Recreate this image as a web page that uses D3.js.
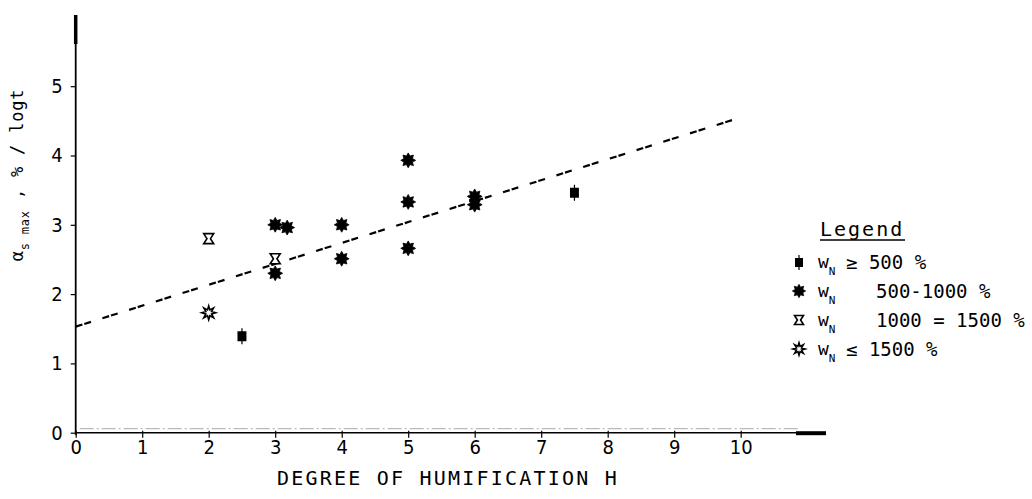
<!DOCTYPE html>
<html><head><meta charset="utf-8">
<script src="https://cdn.jsdelivr.net/npm/d3@7"></script>
<style>
html,body{margin:0;padding:0;background:#fff;}
svg{display:block;}
</style></head><body>
<svg id="chart" width="1032" height="499"></svg>
<script>
// Secondary compression rate against degree of humification, grouped by natural water content
const humificationTicks = [0, 1, 2, 3, 4, 5, 6, 7, 8, 9, 10];
const rateTicks = [0, 1, 2, 3, 4, 5];

const lowWaterH = [2.5, 7.5];
const lowWaterRate = [1.40, 3.47];
const midWaterH = [3, 3.18, 3, 4, 4, 5, 5, 5, 6, 6];
const midWaterRate = [3.00, 2.96, 2.30, 3.00, 2.51, 3.93, 3.33, 2.66, 3.41, 3.29];
const highWaterH = [2, 3];
const highWaterRate = [2.80, 2.51];
const veryHighWaterH = [2];
const veryHighWaterRate = [1.73];

const trendH = [0, 10];
const trendRate = [1.53, 4.55];

const legendRanges = ["≥ 500 %", "500-1000 %", "1000 = 1500 %", "≤ 1500 %"];

const svg = d3.select("#chart");
const x = d3.scaleLinear().domain([0, 10]).range([75.7, 740.7]);
const y = d3.scaleLinear().domain([0, 5]).range([432.7, 86.2]);

const tickFont = "'Liberation Sans Narrow','DejaVu Sans Condensed',sans-serif";
const monoFont = "'DejaVu Sans Mono','Liberation Mono',monospace";

// marker shapes
function starPath(ctx, ro, ri, n) {
  for (let i = 0; i < 2 * n; i++) {
    const a = Math.PI * i / n - Math.PI / 2;
    const r = i % 2 === 0 ? ro : ri;
    const px = r * Math.cos(a), py = r * Math.sin(a);
    if (i === 0) ctx.moveTo(px, py); else ctx.lineTo(px, py);
  }
  ctx.closePath();
}
const blockMark = { draw(ctx, size) {
  const r = Math.sqrt(size) / 2;
  ctx.rect(-r, -r, 2 * r, 2 * r + 1);
  ctx.rect(-0.6, -r - 3, 1.2, 3);
  ctx.rect(-0.6, r + 1, 1.2, 3);
} };
const burstMark = { draw(ctx, size) {
  const r = Math.sqrt(size) / 2;
  starPath(ctx, r, r * 0.62, 8);
} };
const hourglassMark = { draw(ctx, size) {
  const r = Math.sqrt(size) / 2;
  ctx.moveTo(-r, -r); ctx.lineTo(r, -r); ctx.lineTo(r * 0.35, 0);
  ctx.lineTo(r, r); ctx.lineTo(-r, r); ctx.lineTo(-r * 0.35, 0); ctx.closePath();
} };
const openStarMark = { draw(ctx, size) {
  const r = Math.sqrt(size) / 2;
  starPath(ctx, r, r * 0.45, 8);
} };

// axes: ticks and labels
const xAxis = d3.axisBottom(x).tickValues(humificationTicks).tickSize(5).tickPadding(2).tickFormat(d3.format("d"));
const gx = svg.append("g").attr("transform", `translate(0,${y(0)})`).call(xAxis);
gx.select(".domain").remove();
gx.selectAll(".tick line").attr("stroke", "#000").attr("stroke-width", 1.2).attr("y1", -2);
gx.selectAll(".tick text").attr("font-family", tickFont).attr("font-size", 20).attr("fill", "#000");

const yAxis = d3.axisLeft(y).tickValues(rateTicks).tickSize(5).tickPadding(8).tickFormat(d3.format("d"));
const gy = svg.append("g").attr("transform", `translate(${x(0)},0)`).call(yAxis);
gy.select(".domain").remove();
gy.selectAll(".tick line").attr("stroke", "#000").attr("stroke-width", 1.2);
gy.selectAll(".tick text").attr("font-family", tickFont).attr("font-size", 20).attr("fill", "#000");

// faint guide just above the abscissa
svg.append("line").attr("x1", x(0) + 4).attr("x2", 800).attr("y1", y(0) - 4).attr("y2", y(0) - 4)
  .attr("stroke", "#aaa").attr("stroke-width", 1).attr("stroke-dasharray", "14 3 2 3");

// axis lines with arrow ends
svg.append("line").attr("x1", x(0)).attr("x2", 826).attr("y1", y(0)).attr("y2", y(0))
  .attr("stroke", "#000").attr("stroke-width", 1.6);
svg.append("line").attr("x1", 796).attr("x2", 826).attr("y1", y(0) + 0.5).attr("y2", y(0) + 0.5)
  .attr("stroke", "#000").attr("stroke-width", 4);
svg.append("line").attr("x1", x(0)).attr("x2", x(0)).attr("y1", y(0) + 2).attr("y2", 15)
  .attr("stroke", "#000").attr("stroke-width", 1.8);
svg.append("line").attr("x1", x(0)).attr("x2", x(0)).attr("y1", 44).attr("y2", 15)
  .attr("stroke", "#000").attr("stroke-width", 3.5);

// trend line: hatched dashes drawn as two slightly offset dashed strokes
const trend = trendH.map((h, i) => [h, trendRate[i]]);
const trendLine = d3.line().x(d => x(d[0])).y(d => y(d[1]));
svg.append("path").datum(trend)
  .attr("d", trendLine)
  .attr("fill", "none").attr("stroke", "#000").attr("stroke-width", 2.2)
  .attr("stroke-dasharray", "7 2 7 12");

// data groups
const groups = [
  { h: lowWaterH, s: lowWaterRate, type: blockMark, size: 80, fill: "#000", stroke: "none", sw: 0 },
  { h: midWaterH, s: midWaterRate, type: burstMark, size: 220, fill: "#000", stroke: "#000", sw: 0.8 },
  { h: highWaterH, s: highWaterRate, type: hourglassMark, size: 100, fill: "#fff", stroke: "#000", sw: 1.6 },
  { h: veryHighWaterH, s: veryHighWaterRate, type: openStarMark, size: 190, fill: "#fff", stroke: "#000", sw: 1.6 }
];
groups.forEach(g => {
  const sym = d3.symbol().type(g.type).size(g.size);
  svg.append("g").selectAll("path").data(g.h.map((h, i) => [h, g.s[i]])).join("path")
    .attr("transform", d => `translate(${x(d[0])},${y(d[1])})`)
    .attr("d", sym).attr("fill", g.fill).attr("stroke", g.stroke).attr("stroke-width", g.sw);
});

// axis titles
svg.append("text").attr("x", 448).attr("y", 485).attr("text-anchor", "middle")
  .attr("font-family", monoFont).attr("font-size", 20).attr("letter-spacing", 2.2)
  .text("DEGREE OF HUMIFICATION H");

const yt = svg.append("text").attr("transform", "translate(23,175) rotate(-90)")
  .attr("text-anchor", "middle").attr("font-family", monoFont).attr("font-size", 17)
  .attr("letter-spacing", 0.8);
yt.append("tspan").text("α");
yt.append("tspan").attr("dy", 6).attr("font-size", 12).text("s max");
yt.append("tspan").attr("dy", -6).text(" , % / logt");

// legend
const lg = svg.append("g");
lg.append("text").attr("x", 820).attr("y", 236).attr("font-family", monoFont).attr("font-size", 20)
  .attr("letter-spacing", 2).text("Legend");
lg.append("line").attr("x1", 820).attr("x2", 905).attr("y1", 240).attr("y2", 240)
  .attr("stroke", "#000").attr("stroke-width", 1.5);
const rowY = [262, 291, 320, 349];
const rangeX = [846, 876, 876, 846];
groups.forEach((g, i) => {
  lg.append("path").attr("transform", `translate(799,${rowY[i]})`)
    .attr("d", d3.symbol().type(g.type).size(g.size * 0.8))
    .attr("fill", g.fill).attr("stroke", g.stroke).attr("stroke-width", g.sw);
  const t = lg.append("text").attr("x", 818).attr("y", rowY[i] + 6).attr("font-family", monoFont).attr("font-size", 18);
  t.append("tspan").text("w");
  t.append("tspan").attr("dy", 7).attr("font-size", 11).text("N");
  lg.append("text").attr("x", rangeX[i]).attr("y", rowY[i] + 7).attr("font-family", monoFont)
    .attr("font-size", 19).text(legendRanges[i]);
});
</script>
</body></html>
